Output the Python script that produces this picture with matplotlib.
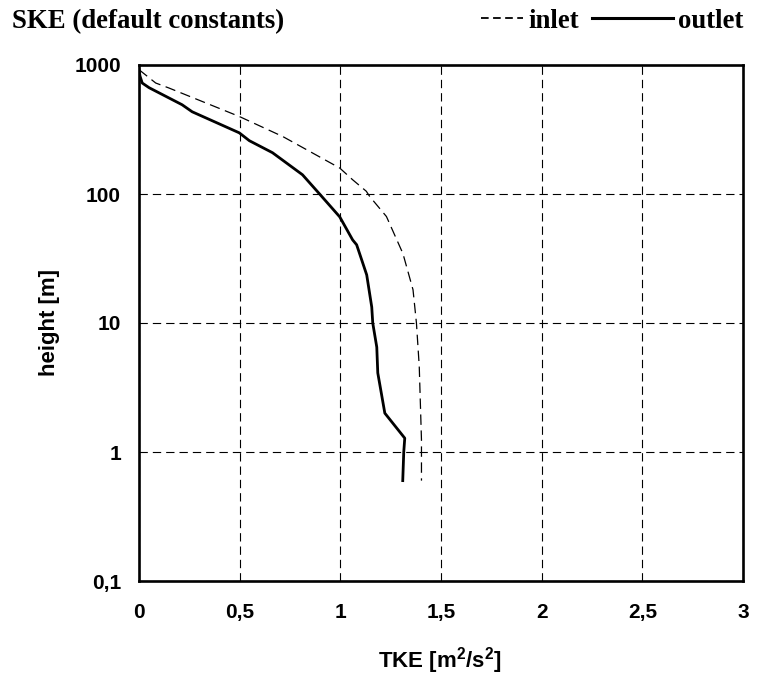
import matplotlib
matplotlib.use("Agg")
import matplotlib.pyplot as plt
from matplotlib.lines import Line2D
from matplotlib.ticker import FixedLocator, NullLocator

plt.rcParams['lines.scale_dashes'] = False
plt.rcParams['mathtext.fontset'] = 'custom'
plt.rcParams['mathtext.rm'] = 'Liberation Sans:bold'
plt.rcParams['mathtext.bf'] = 'Liberation Sans:bold'
plt.rcParams['mathtext.default'] = 'rm'

# ---- data ----
outlet_tke = [0.0, 0.005, 0.016, 0.05, 0.214, 0.264, 0.498, 0.548, 0.663, 0.812, 0.897,
              0.997, 1.061, 1.081, 1.106, 1.131, 1.156, 1.161, 1.181, 1.186, 1.221,
              1.320, 1.315, 1.310]
outlet_h = [920, 820, 725, 667, 492, 434, 298, 259, 209, 141, 100,
            66.5, 44.1, 40.4, 30.9, 23.6, 13.3, 10, 6.5, 4.1, 2.0,
            1.28, 1.0, 0.6]

inlet_tke = [0.0, 0.083, 0.149, 0.498, 0.714, 0.997, 1.061, 1.129, 1.146, 1.229,
             1.311, 1.361, 1.378, 1.392, 1.403, 1.403]
inlet_h = [920, 725, 663, 399, 279, 159, 129, 105, 95.6, 66.9,
           34.5, 18.1, 10, 4.6, 1.24, 0.6]

x_ticks = [0, 0.5, 1, 1.5, 2, 2.5, 3]
x_ticklabels = ['0', '0,5', '1', '1,5', '2', '2,5', '3']
y_ticks = [0.1, 1, 10, 100, 1000]
y_ticklabels = ['0,1', '1', '10', '100', '1000']

title = 'SKE (default constants)'
legend_labels = ['inlet', 'outlet']
xlabel = r'TKE [m$^{2}$/s$^{2}$]'
ylabel = 'height [m]'

# ---- figure ----
W, H = 757, 684
fig = plt.figure(figsize=(W / 100, H / 100), dpi=100)

def fx(px):
    return px / W

def fy(py):
    return 1 - py / H

ax_l, ax_r, ax_t, ax_b = 139, 743, 65, 581
ax = fig.add_axes([fx(ax_l), fy(ax_b), fx(ax_r) - fx(ax_l), fy(ax_t) - fy(ax_b)])

ax.set_yscale('log')
ax.set_xlim(0, 3)
ax.set_ylim(0.1, 1000)

ax.grid(True, which='major', color='black', linewidth=0.8, linestyle=(0, (6, 3.6)))
ax.set_axisbelow(True)

ax.plot(inlet_tke, inlet_h, color='black', linewidth=0.9, linestyle=(0, (7.5, 4)))
ax.plot(outlet_tke, outlet_h, color='black', linewidth=2.0, solid_joinstyle='round')

ax.xaxis.set_major_locator(FixedLocator(x_ticks))
ax.set_xticklabels(x_ticklabels)
ax.yaxis.set_major_locator(FixedLocator(y_ticks))
ax.yaxis.set_minor_locator(NullLocator())
ax.set_yticklabels(y_ticklabels)

for lab in ax.get_xticklabels() + ax.get_yticklabels():
    lab.set_fontfamily('Liberation Sans')
    lab.set_fontweight('bold')
    lab.set_fontsize(15)
ax.tick_params(axis='both', length=0)
ax.tick_params(axis='y', pad=13)
ax.tick_params(axis='x', pad=16)

for sp in ax.spines.values():
    sp.set_linewidth(1.9)
    sp.set_color('black')

# axis labels
fig.text(fx(440), fy(668), xlabel, ha='center', va='baseline',
         family='Liberation Sans', weight='bold', size=16)
fig.text(fx(49), fy(322), ylabel, ha='center', va='center', rotation=90,
         family='Liberation Sans', weight='bold', size=16)

# title
fig.text(fx(12), fy(28), title, ha='left', va='baseline',
         family='Liberation Serif', weight='bold', size=19.3)

# legend (top right)
fig.add_artist(Line2D([fx(481), fx(523)], [fy(18), fy(18)], color='black',
                      linewidth=1.3, linestyle=(0, (5.5, 3.2))))
fig.text(fx(528), fy(28), legend_labels[0], ha='left', va='baseline',
         family='Liberation Serif', weight='bold', size=19.3)
fig.add_artist(Line2D([fx(592), fx(673)], [fy(18), fy(18)], color='black',
                      linewidth=2.2))
fig.text(fx(678), fy(28), legend_labels[1], ha='left', va='baseline',
         family='Liberation Serif', weight='bold', size=19.3)

fig.savefig('out.png', dpi=100)
